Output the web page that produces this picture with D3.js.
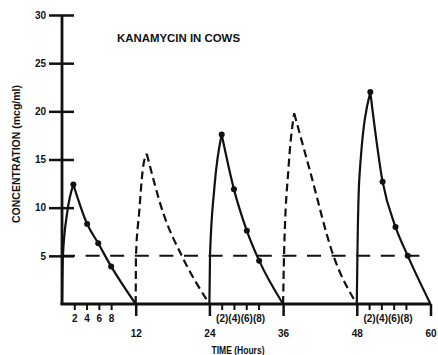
<!DOCTYPE html>
<html>
<head>
<meta charset="utf-8">
<script src="https://cdn.jsdelivr.net/npm/d3@7"></script>
<style>
  body { margin: 0; background: #fff; }
  text { font-family: "Liberation Sans", Arial, sans-serif; font-weight: bold; fill: #111; }
</style>
</head>
<body>
<svg id="chart" width="438" height="355"></svg>
<script>
// concentration after each 12-hour dose: rising limb and falling limb, [hours, mcg/ml]
const doseRises = [
    [[0, 0], [0.15, 5], [0.85, 9.5], [1.85, 12.4]],
    [[12, 0], [12.05, 5], [12.55, 9.4], [13.2, 14.2], [13.8, 15.6]],
    [[24, 0], [24.1, 5], [24.8, 12], [26, 17.6]],
    [[36, 0], [36.15, 5], [36.9, 14.3], [37.8, 19.8]],
    [[48, 0], [48.1, 5], [48.4, 12.9], [50.2, 22]]
];
const doseFalls = [
    [[1.85, 12.4], [4.1, 8.3], [5.9, 6.3], [8.0, 3.9], [12, 0]],
    [[13.8, 15.6], [16.5, 9.4], [19.5, 5], [24, 0]],
    [[26, 17.6], [28, 11.9], [30.1, 7.6], [32.1, 4.5], [36, 0]],
    [[37.8, 19.8], [40.3, 14.0], [44.2, 5], [48, 0]],
    [[50.2, 22], [52.2, 12.7], [54.3, 8.0], [56.3, 5.0], [60, 0]]
];
const dashedDoses = [false, true, false, true, false];
const sampledDoses = [0, 2, 4];

const minLevel = 5;          // dashed reference line
const minLevelEnd = 58.4;

const yTicks = [5, 10, 15, 20, 25, 30];
const xMajorTicks = [12, 24, 36, 48, 60];
const xMinorTicks = [2, 4, 6, 8, 26, 28, 30, 32, 50, 52, 54, 56];
const xMinorLabels = ["2", "4", "6", "8", "(2)", "(4)", "(6)", "(8)", "(2)", "(4)", "(6)", "(8)"];

const svg = d3.select("#chart");

const x = d3.scaleLinear().domain([0, 60]).range([62, 430.5]);
const y = d3.scaleLinear().domain([0, 30]).range([304, 15]);

// Y axis, ticks on both sides of the line
const yAxis = svg.append("g")
    .attr("transform", `translate(${x(0)},0)`)
    .call(d3.axisLeft(y).tickValues(yTicks).tickSize(13).tickPadding(3));
yAxis.select(".domain").remove();
yAxis.selectAll(".tick line")
    .attr("x1", -13).attr("x2", 12)
    .attr("stroke", "#111").attr("stroke-width", 2.5);
yAxis.selectAll(".tick text")
    .attr("font-size", 10).attr("font-family", null).attr("fill", null);

svg.append("line")
    .attr("x1", x(0)).attr("x2", x(0))
    .attr("y1", y(30)).attr("y2", y(0) + 1)
    .attr("stroke", "#111").attr("stroke-width", 2.8);

// X axis
const xMinor = svg.append("g")
    .attr("transform", `translate(0,${y(0)})`)
    .call(d3.axisBottom(x).tickValues(xMinorTicks).tickSize(6).tickPadding(4.5)
        .tickFormat((d, i) => xMinorLabels[i]));
xMinor.select(".domain").remove();
xMinor.selectAll(".tick line").attr("stroke", "#111").attr("stroke-width", 2);
xMinor.selectAll(".tick text").attr("font-size", 10).attr("font-family", null).attr("fill", null);

const xMajor = svg.append("g")
    .attr("transform", `translate(0,${y(0)})`)
    .call(d3.axisBottom(x).tickValues(xMajorTicks).tickSize(12).tickPadding(13.5));
xMajor.select(".domain").remove();
xMajor.selectAll(".tick line").attr("stroke", "#111").attr("stroke-width", 2.5);
xMajor.selectAll(".tick text").attr("font-size", 10).attr("font-family", null).attr("fill", null);

svg.append("line")
    .attr("x1", x(0) - 1.4).attr("x2", x(60))
    .attr("y1", y(0)).attr("y2", y(0))
    .attr("stroke", "#111").attr("stroke-width", 2.8);

// 5 mcg/ml reference line
svg.append("line")
    .attr("x1", x(0) - 1).attr("x2", x(minLevelEnd))
    .attr("y1", y(minLevel)).attr("y2", y(minLevel))
    .attr("stroke", "#111").attr("stroke-width", 2)
    .attr("stroke-dasharray", "14,10.6");

// curves
const line = d3.line()
    .x(d => x(d[0]))
    .y(d => y(d[1]))
    .curve(d3.curveMonotoneX);

doseRises.forEach((rise, i) => {
    [rise, doseFalls[i]].forEach(seg => {
        svg.append("path")
            .datum(seg)
            .attr("fill", "none")
            .attr("stroke", "#111")
            .attr("stroke-width", 2.2)
            .attr("stroke-linejoin", "round")
            .attr("stroke-dasharray", dashedDoses[i] ? "8,4.5" : null)
            .attr("d", line);
    });
});

// sample dots
sampledDoses.forEach(i => {
    svg.selectAll(null)
        .data(doseFalls[i].slice(0, -1))
        .enter().append("circle")
        .attr("cx", d => x(d[0]))
        .attr("cy", d => y(d[1]))
        .attr("r", 3)
        .attr("fill", "#111");
});

// labels
svg.append("text")
    .attr("x", 117).attr("y", 42)
    .attr("font-size", 11)
    .attr("textLength", 123).attr("lengthAdjust", "spacingAndGlyphs")
    .text("KANAMYCIN IN COWS");

svg.append("text")
    .attr("transform", "translate(19.5,154) rotate(-90)")
    .attr("text-anchor", "middle")
    .attr("font-size", 10.5)
    .text("CONCENTRATION (mcg/ml)");

svg.append("text")
    .attr("x", 238).attr("y", 353.5)
    .attr("text-anchor", "middle")
    .attr("font-size", 10)
    .attr("textLength", 53).attr("lengthAdjust", "spacingAndGlyphs")
    .text("TIME (Hours)");
</script>
</body>
</html>
